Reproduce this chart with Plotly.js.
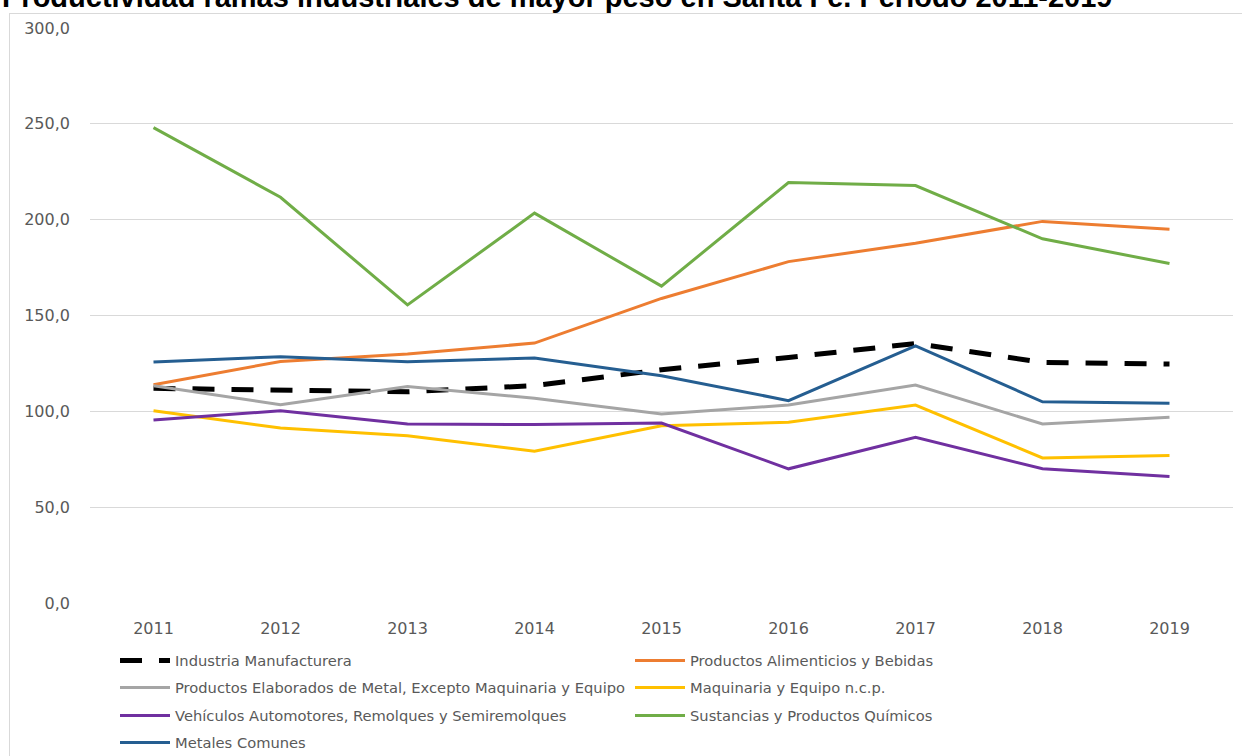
<!DOCTYPE html>
<html>
<head>
<meta charset="utf-8">
<script src="https://cdn.plot.ly/plotly-3.0.1.min.js"></script>
<style>
html,body{margin:0;padding:0;background:#fff;overflow:hidden;}
#chart{width:1242px;height:756px;position:relative;}
#frame{position:absolute;left:9px;top:13px;width:1240px;height:750px;border:1px solid #d9d9d9;pointer-events:none;}
</style>
</head>
<body>
<div id="chart"></div>
<div id="frame"></div>
<script>
const years = ["2011","2012","2013","2014","2015","2016","2017","2018","2019"];
const industriaManufacturera = [112.0,111.3,110.2,113.4,121.7,128.1,135.4,125.5,124.7];
const alimenticiosBebidas = [113.9,126.0,129.9,135.6,158.9,178.1,187.7,199.1,195.0];
const elaboradosMetal = [113.4,103.5,113.0,106.8,98.6,103.3,113.7,93.4,96.9];
const maquinariaEquipo = [100.3,91.3,87.3,79.2,92.5,94.3,103.3,75.7,76.9];
const vehiculosAutomotores = [95.5,100.3,93.4,93.1,93.9,70.0,86.5,70.0,66.0];
const sustanciasQuimicos = [248.0,211.7,155.5,203.4,165.3,219.4,217.8,190.0,177.1];
const metalesComunes = [125.7,128.5,125.9,127.8,118.6,105.6,134.2,105.0,104.2];

const chartTitle = "Productividad ramas industriales de mayor peso en Santa Fe. Período 2011-2019";
const seriesNames = [
  "Industria Manufacturera",
  "Productos Alimenticios y Bebidas",
  "Productos Elaborados de Metal, Excepto Maquinaria y Equipo",
  "Maquinaria y Equipo n.c.p.",
  "Vehículos Automotores, Remolques y Semiremolques",
  "Sustancias y Productos Químicos",
  "Metales Comunes"
];
const seriesValues = [industriaManufacturera, alimenticiosBebidas, elaboradosMetal, maquinariaEquipo, vehiculosAutomotores, sustanciasQuimicos, metalesComunes];
const seriesColors = ["#000000","#ED7D31","#A5A5A5","#FFC000","#7030A0","#70AD47","#255E91"];

const W = 1242, H = 756;
const legendKeys = ["legend","legend2","legend3","legend4","legend5","legend6","legend7"];
const colTextX = [175, 690];
const rowCenterY = [661, 688, 716, 743];

const traces = seriesNames.map((n,i)=>({
  x: years, y: seriesValues[i], name: n, type: "scatter", mode: "lines",
  legend: legendKeys[i],
  line: {color: seriesColors[i], width: i===0 ? 5 : 3, dash: i===0 ? "22px,17px" : "solid"}
}));

const layout = {
  width: W, height: H,
  paper_bgcolor: "#ffffff", plot_bgcolor: "#ffffff",
  margin: {l: 90, r: 9, t: 28, b: 153, autoexpand: false},
  separators: ",.",
  font: {family: "DejaVu Sans, sans-serif", color: "#595959", size: 14},
  annotations: [{
    text: "<b>" + chartTitle + "</b>", showarrow: false,
    xref: "paper", yref: "paper", x: -90/1143, xanchor: "left",
    y: (603-15)/575, yanchor: "bottom",
    font: {family: "Liberation Sans, Arial, sans-serif", size: 29, color: "#000"}
  }],
  xaxis: {type: "category", range: [-0.5, 8.5], showgrid: false, zeroline: false, showline: false,
    ticks: "", tickfont: {size: 16, color: "#595959"}, ticklabelstandoff: 14, fixedrange: true},
  yaxis: {range: [0, 300], dtick: 50, tickformat: ".1f", showgrid: true, gridcolor: "#D9D9D9", gridwidth: 1,
    zeroline: false, showline: false, ticks: "", tickfont: {size: 16, color: "#595959"}, ticklabelstandoff: 19, fixedrange: true},
  showlegend: true
};
legendKeys.forEach((k,i)=>{
  const col = i % 2, row = Math.floor(i/2);
  layout[k] = {
    xref: "container", yref: "container",
    x: (colTextX[col] - 60)/W, xanchor: "left",
    y: 1 - rowCenterY[row]/H, yanchor: "middle",
    orientation: "v", itemwidth: 50,
    font: {family: "DejaVu Sans, sans-serif", size: 14.7, color: "#595959"},
    bgcolor: "rgba(0,0,0,0)", borderwidth: 0
  };
});
Plotly.newPlot("chart", traces, layout, {displayModeBar: false, staticPlot: true});
</script>
</body>
</html>
